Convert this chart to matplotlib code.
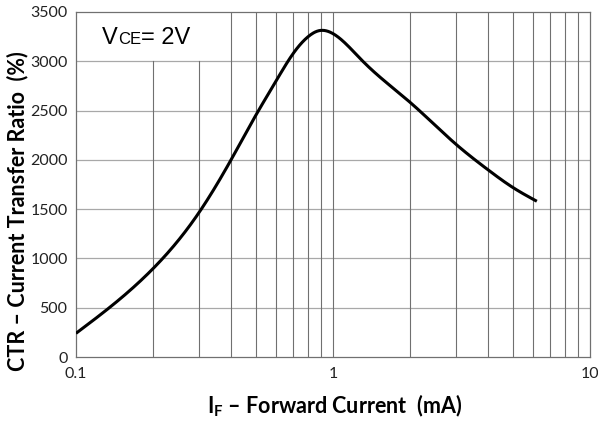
import numpy as np
import matplotlib.pyplot as plt

plt.rcParams['font.family'] = ['Lato', 'DejaVu Sans']
plt.rcParams['mathtext.fontset'] = 'custom'
plt.rcParams['mathtext.rm'] = 'Lato'
plt.rcParams['mathtext.bf'] = 'Lato:bold'

# CTR vs forward current, VCE = 2V
if_ma = [0.1, 0.2, 0.3, 0.4, 0.5, 0.6, 0.7, 0.8, 0.88, 1.0,
         1.3, 2.0, 3.0, 4.0, 5.0, 6.2]
ctr = [240, 900, 1460, 1995, 2450, 2800, 3080, 3250, 3310, 3280,
       3005, 2580, 2160, 1900, 1720, 1580]

y_ticks = [0, 500, 1000, 1500, 2000, 2500, 3000, 3500]
x_ticks = [0.1, 1, 10]
x_tick_labels = ['0.1', '1', '10']


def natural_spline(x, y, xs):
    x = np.asarray(x, float)
    y = np.asarray(y, float)
    n = len(x)
    h = np.diff(x)
    A = np.zeros((n, n))
    b = np.zeros(n)
    A[0, 0] = A[-1, -1] = 1
    for i in range(1, n - 1):
        A[i, i - 1] = h[i - 1]
        A[i, i] = 2 * (h[i - 1] + h[i])
        A[i, i + 1] = h[i]
        b[i] = 3 * ((y[i + 1] - y[i]) / h[i] - (y[i] - y[i - 1]) / h[i - 1])
    c = np.linalg.solve(A, b)
    bb = (y[1:] - y[:-1]) / h - h * (2 * c[:-1] + c[1:]) / 3
    dd = (c[1:] - c[:-1]) / (3 * h)
    idx = np.clip(np.searchsorted(x, xs) - 1, 0, n - 2)
    t = xs - x[idx]
    return y[idx] + bb[idx] * t + c[idx] * t**2 + dd[idx] * t**3


fig = plt.figure(figsize=(5.98, 4.21), dpi=100)
ax = fig.add_axes([0.127, 0.152, 0.86, 0.8195])
ax.set_xscale('log')
ax.set_xlim(0.1, 10)
ax.set_ylim(0, 3500)

lx = np.log10(if_ma)
fine = np.linspace(lx[0], lx[-1], 500)
yy = natural_spline(lx, ctr, fine)

# grid
for y in y_ticks[1:-1]:
    ax.axhline(y, color='#a8a8a8', lw=0.9, zorder=1)
for dec in [0.1, 1]:
    for m in range(2, 10):
        xv = dec * m
        top = 3000 if xv < 0.35 else 3500
        ax.plot([xv, xv], [0, top], color='#707070', lw=0.8, zorder=1)
ax.axvline(1, color='#707070', lw=0.8, zorder=1)

ax.plot(10 ** fine, yy, color='black', lw=2.2, solid_capstyle='butt', zorder=3)

for s in ax.spines.values():
    s.set_color('#707070')
    s.set_linewidth(0.9)

ax.set_yticks(y_ticks)
ax.set_xticks(x_ticks)
ax.set_xticklabels(x_tick_labels)
ax.xaxis.set_minor_locator(plt.NullLocator())
ax.tick_params(axis='both', length=0, labelsize=11.5, colors='#222222', pad=6)
ax.tick_params(axis='x', pad=7)

ax.set_xlabel(r'$\mathbf{I}_\mathbf{F}$ – Forward Current  (mA)',
              fontsize=15.5, fontweight='bold')
ax.xaxis.set_label_coords(0.502, -0.104)
ax.set_ylabel('CTR – Current Transfer Ratio  (%)', fontsize=15.5,
              fontweight='bold')
ax.yaxis.set_label_coords(-0.093, 0.423)

t1 = ax.text(0.05, 0.908, 'V', transform=ax.transAxes, fontsize=17,
             family='Liberation Sans', va='baseline')
t2 = ax.annotate('CE', xy=(1, 0), xycoords=t1, fontsize=12,
                 family='Liberation Sans', va='bottom', xytext=(0.5, 1.5),
                 textcoords='offset points')
ax.annotate('= 2V', xy=(1, 0), xycoords=t2, fontsize=17,
            family='Liberation Sans', va='bottom', xytext=(0, -1.5),
            textcoords='offset points')

fig.savefig('out.png', dpi=100)
